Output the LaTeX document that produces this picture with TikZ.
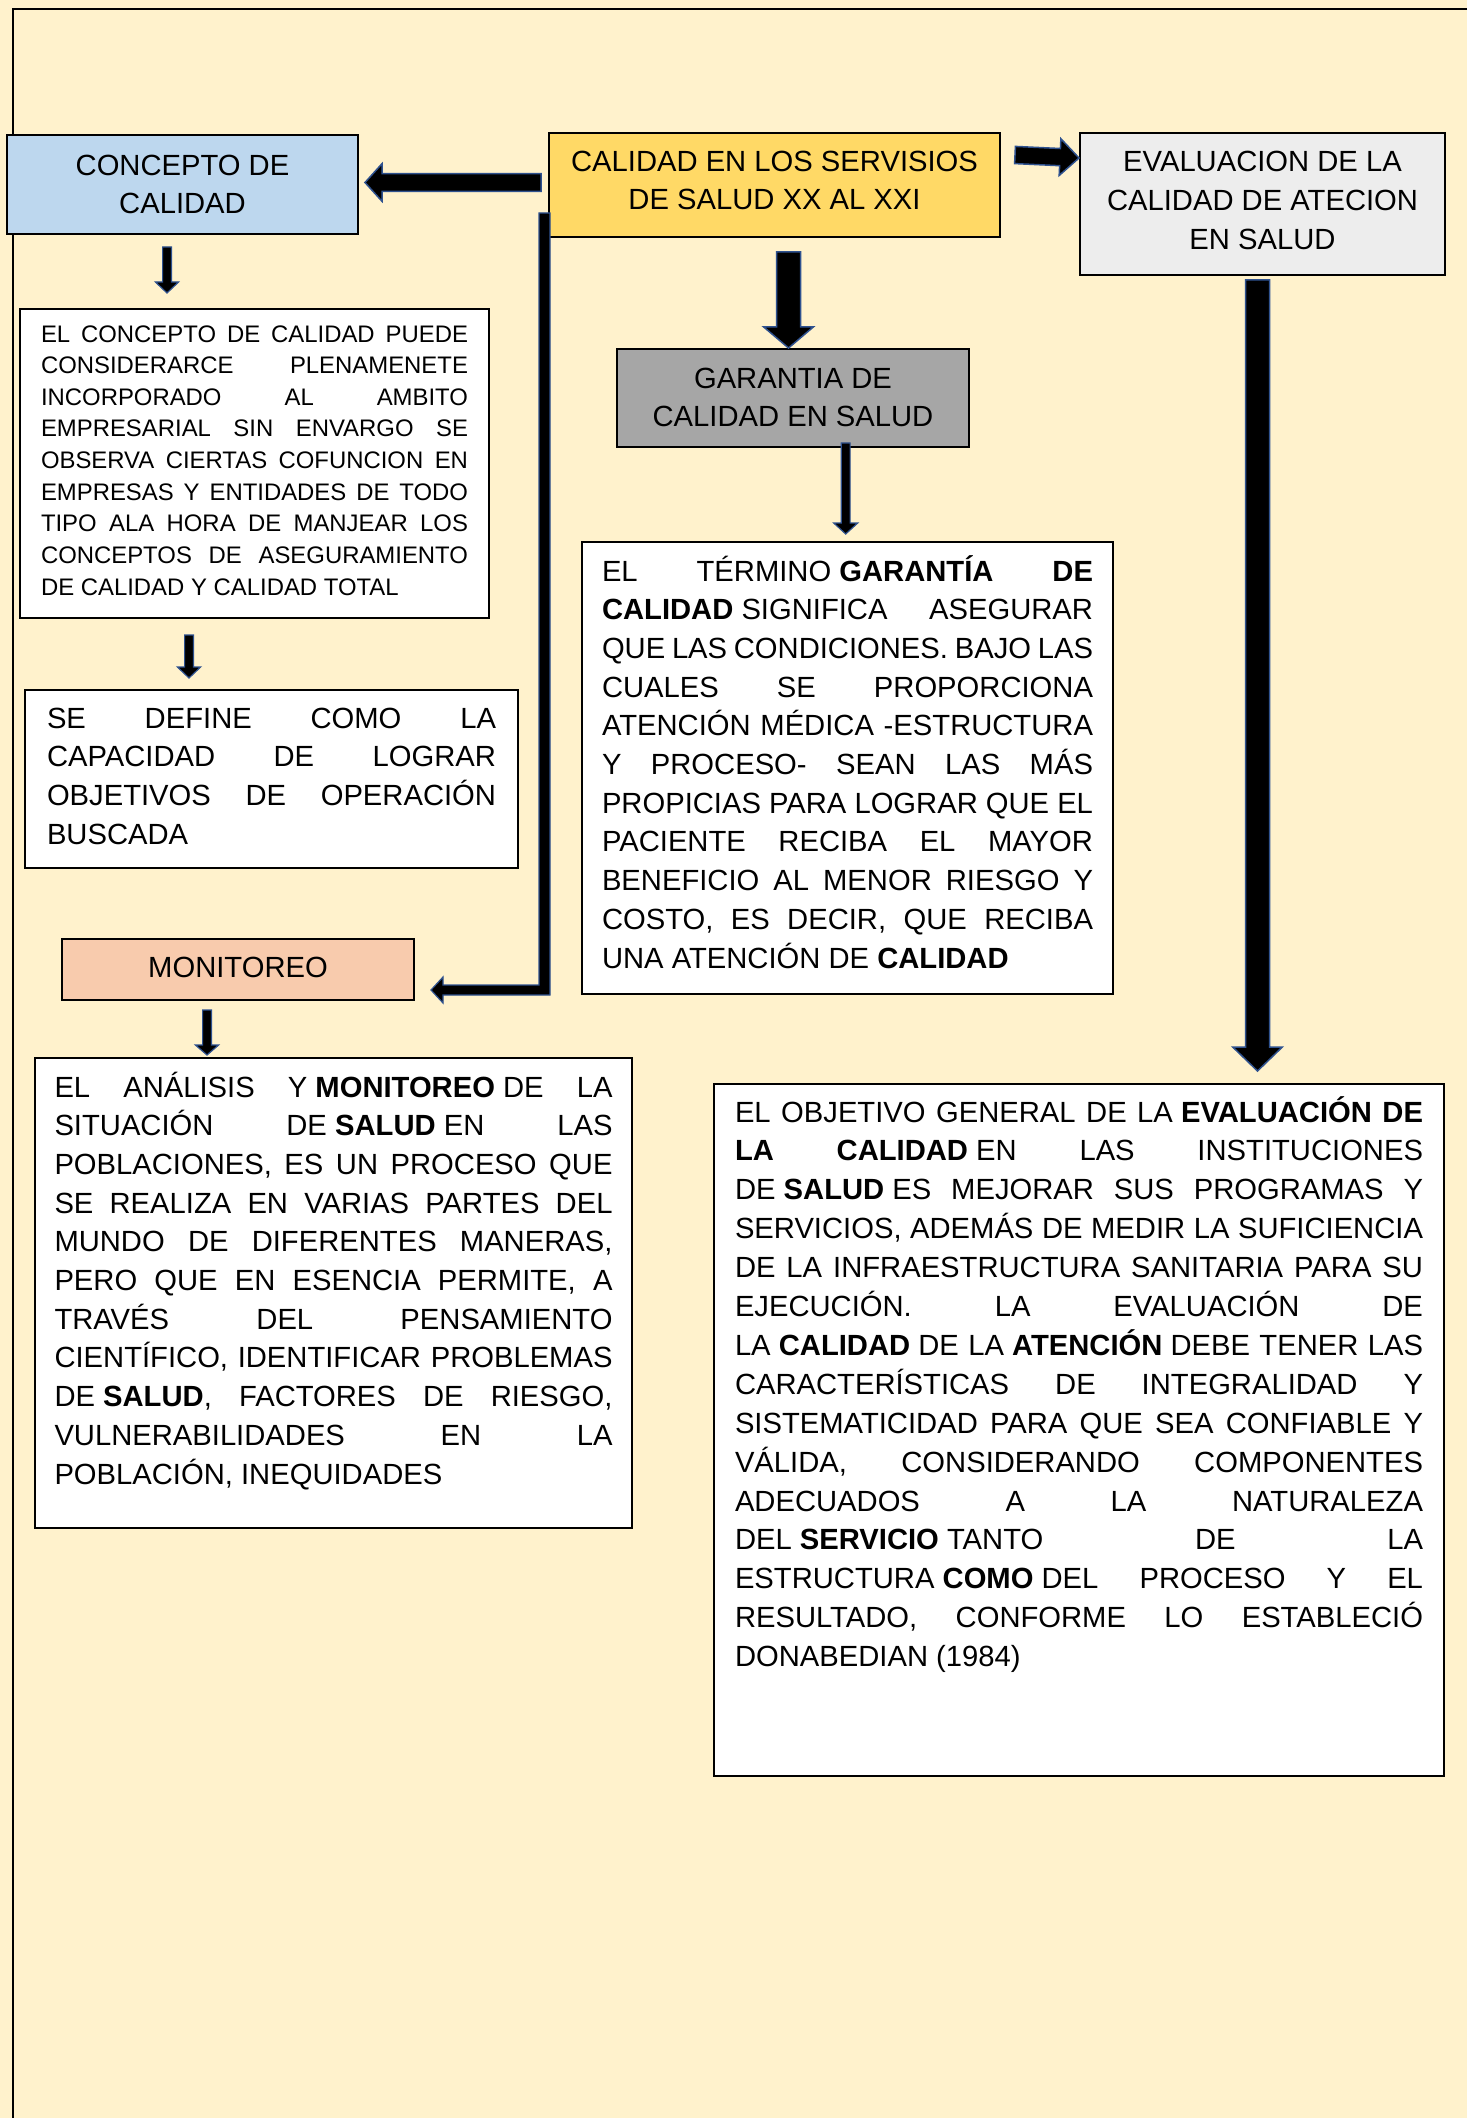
\documentclass[tikz,border=0pt]{standalone}
\usepackage{fontspec}
\setmainfont{Liberation Sans}
\usetikzlibrary{calc}
\definecolor{bgc}{HTML}{FFF2CC}
\definecolor{cblue}{HTML}{BDD7EE}
\definecolor{cgold}{HTML}{FFD966}
\definecolor{cgray}{HTML}{EDEDED}
\definecolor{cdgray}{HTML}{A6A6A6}
\definecolor{cpeach}{HTML}{F8CBAD}
\definecolor{arrowblue}{HTML}{2F528F}
\newcommand\jl[1]{\hbox to\hsize{\spaceskip=0.278em plus 1fil minus 0.09em\relax #1}}
\newcommand\lastl[1]{\hbox{\spaceskip=0.278em\relax #1}}
\newcommand\ctrl[1]{\hbox to\hsize{\hfil #1\hfil}}
\newcommand\fs{\hskip 0.278em minus 0.05em\relax}
\newcommand\boxtext[5]{\vbox to #1{\hsize=#2\relax\baselineskip=#3\relax\lineskiplimit=-\maxdimen\vskip #4\relax\hbox{}#5\vss}}
\newcommand\barrow[6][]{%
  \coordinate (bas) at #2; \coordinate (bae) at #3;
  \coordinate (bah) at ($(bae)!#6!(bas)$);
  \filldraw[blockarrow,#1] ($(bas)!#4!90:(bae)$) -- ($(bah)!#4!90:(bae)$) -- ($(bah)!#5!90:(bae)$) -- (bae) -- ($(bah)!#5!-90:(bae)$) -- ($(bah)!#4!-90:(bae)$) -- ($(bas)!#4!-90:(bae)$) -- cycle;}
\tikzset{
  titlebox/.style={draw=black, line width=1pt, inner sep=0pt, outer sep=0pt, anchor=north west, font=\fontsize{14.6pt}{19.35pt}\selectfont},
  textbox/.style={draw=black, fill=white, line width=0.75pt, inner ysep=0pt, outer sep=0pt, anchor=north west, font=\fontsize{14.6pt}{19.35pt}\selectfont},
  blockarrow/.style={fill=black, draw=arrowblue, line width=0.75pt, line join=miter},
  thinarrow/.style={line width=0.6pt}
}
\begin{document}
\begin{tikzpicture}[x=0.5pt,y=-0.5pt]
\fill[bgc] (0,0) rectangle (1467,2118);
\useasboundingbox (0,0) rectangle (1467,2118);
\draw[line width=1pt] (1467,9) -- (13,9) -- (13,2118);

% title boxes
\node[titlebox, fill=cblue] (concept) at (7,135)
  {\boxtext{49.5pt}{175.5pt}{19.35pt}{0.75pt}{\ctrl{CONCEPTO DE}\ctrl{CALIDAD}}};
\node[titlebox, fill=cgold] (calidad) at (549,133)
  {\boxtext{52pt}{225.5pt}{19.35pt}{-0.25pt}{\ctrl{CALIDAD EN LOS SERVISIOS}\ctrl{DE SALUD XX AL XXI}}};
\node[titlebox, fill=cgray] (evaluacion) at (1080,133)
  {\boxtext{71pt}{182.5pt}{19.4pt}{0.05pt}{\ctrl{EVALUACION DE LA}\ctrl{CALIDAD DE ATECION}\ctrl{EN SALUD}}};
\node[titlebox, fill=cdgray] (garantia) at (617,349)
  {\boxtext{49pt}{176pt}{19.35pt}{0.25pt}{\ctrl{GARANTIA DE}\ctrl{CALIDAD EN SALUD}}};
\node[titlebox, fill=cpeach] (monitoreo) at (62,939)
  {\boxtext{30.5pt}{176pt}{19.35pt}{-0.35pt}{\ctrl{MONITOREO}}};

% text boxes
\node[textbox, inner xsep=10.5pt, font=\fontsize{11.95pt}{15.83pt}\selectfont] (t1) at (20,309)
  {\boxtext{154.5pt}{213.5pt}{15.83pt}{0.67pt}{%
   \jl{EL CONCEPTO DE CALIDAD PUEDE}
   \jl{CONSIDERARCE PLENAMENETE}
   \jl{INCORPORADO AL AMBITO}
   \jl{EMPRESARIAL SIN ENVARGO SE}
   \jl{OBSERVA CIERTAS COFUNCION EN}
   \jl{EMPRESAS Y ENTIDADES DE TODO}
   \jl{TIPO ALA HORA DE MANJEAR LOS}
   \jl{CONCEPTOS DE ASEGURAMIENTO}
   \lastl{DE CALIDAD Y CALIDAD TOTAL}}};
\node[textbox, inner xsep=11pt] (t2) at (25,690)
  {\boxtext{89pt}{224.5pt}{19.35pt}{-0.35pt}{%
   \jl{SE DEFINE COMO LA}
   \jl{CAPACIDAD DE LOGRAR}
   \jl{OBJETIVOS DE OPERACIÓN}
   \lastl{BUSCADA}}};
\node[textbox, inner xsep=10pt] (t3) at (582,542)
  {\boxtext{226pt}{245.5pt}{19.35pt}{0.15pt}{%
   \jl{EL TÉRMINO\fs\textbf{GARANTÍA DE}}
   \jl{\textbf{CALIDAD}\fs SIGNIFICA ASEGURAR}
   \jl{QUE LAS CONDICIONES. BAJO LAS}
   \jl{CUALES SE PROPORCIONA}
   \jl{ATENCIÓN MÉDICA -ESTRUCTURA}
   \jl{Y PROCESO- SEAN LAS MÁS}
   \jl{PROPICIAS PARA LOGRAR QUE EL}
   \jl{PACIENTE RECIBA EL MAYOR}
   \jl{BENEFICIO AL MENOR RIESGO Y}
   \jl{COSTO, ES DECIR, QUE RECIBA}
   \lastl{UNA ATENCIÓN DE \textbf{CALIDAD}}}};
\node[textbox, inner xsep=9.75pt] (t4) at (35,1058)
  {\boxtext{235pt}{279pt}{19.35pt}{0.15pt}{%
   \jl{EL ANÁLISIS Y\fs\textbf{MONITOREO}\fs DE LA}
   \jl{SITUACIÓN DE\fs\textbf{SALUD}\fs EN LAS}
   \jl{POBLACIONES, ES UN PROCESO QUE}
   \jl{SE REALIZA EN VARIAS PARTES DEL}
   \jl{MUNDO DE DIFERENTES MANERAS,}
   \jl{PERO QUE EN ESENCIA PERMITE, A}
   \jl{TRAVÉS DEL PENSAMIENTO}
   \jl{CIENTÍFICO, IDENTIFICAR PROBLEMAS}
   \jl{DE\fs\textbf{SALUD}, FACTORES DE RIESGO,}
   \jl{VULNERABILIDADES EN LA}
   \lastl{POBLACIÓN, INEQUIDADES}}};
\node[textbox, inner xsep=10.5pt] (t5) at (714,1084)
  {\boxtext{346pt}{344pt}{19.45pt}{-0.45pt}{%
   \jl{EL OBJETIVO GENERAL DE LA\fs\textbf{EVALUACIÓN DE}}
   \jl{\textbf{LA CALIDAD}\fs EN LAS INSTITUCIONES}
   \jl{DE\fs\textbf{SALUD}\fs ES MEJORAR SUS PROGRAMAS Y}
   \jl{SERVICIOS, ADEMÁS DE MEDIR LA SUFICIENCIA}
   \jl{DE LA INFRAESTRUCTURA SANITARIA PARA SU}
   \jl{EJECUCIÓN. LA EVALUACIÓN DE}
   \jl{LA\fs\textbf{CALIDAD}\fs DE LA\fs\textbf{ATENCIÓN}\fs DEBE TENER LAS}
   \jl{CARACTERÍSTICAS DE INTEGRALIDAD Y}
   \jl{SISTEMATICIDAD PARA QUE SEA CONFIABLE Y}
   \jl{VÁLIDA, CONSIDERANDO COMPONENTES}
   \jl{ADECUADOS A LA NATURALEZA}
   \jl{DEL\fs\textbf{SERVICIO}\fs TANTO DE LA}
   \jl{ESTRUCTURA\fs\textbf{COMO}\fs DEL PROCESO Y EL}
   \jl{RESULTADO, CONFORME LO ESTABLECIÓ}
   \lastl{DONABEDIAN (1984)}}};

% block arrows
\barrow{($(calidad.west)+(-8,-2.5)$)}{($(concept.east)+(7,-2)$)}{4.4pt}{9.4pt}{8.5pt}
\barrow{($(calidad.east)+(15,-30)$)}{($(evaluacion.west)+(-1,-46)$)}{4.3pt}{9.2pt}{9.5pt}
\barrow{($(calidad.south)+(14,15)$)}{($(garantia.north)+(-4.5,-1)$)}{6pt}{12.4pt}{10.5pt}
\barrow{($(evaluacion.south)+(-5,5)$)}{($(t5.north)+(178.5,-13)$)}{6pt}{12.4pt}{12pt}
\barrow[thinarrow]{($(concept.south)+(-15.5,13)$)}{($(t1.north)+(-87.5,-16)$)}{2.2pt}{5.8pt}{5.5pt}
\barrow[thinarrow]{($(t1.south)+(-65.5,17)$)}{($(t2.north)+(-82.5,-12)$)}{2.2pt}{5.8pt}{5.5pt}
\barrow[thinarrow]{($(garantia.south)+(52.7,-4)$)}{($(t3.north)+(-1.8,-8)$)}{2.2pt}{6pt}{5.5pt}
\barrow[thinarrow]{($(monitoreo.south)+(-31,10)$)}{($(t4.north)+(-126.5,-3)$)}{2.2pt}{5.8pt}{5pt}

% elbow arrow from calidad down to monitoreo
\filldraw[blockarrow, thinarrow] ($(calidad.south west)+(-10,-24)$) -- ++(11,0) -- ++(0,782) -- ++(-107,0)
  -- ++(0,8) -- ++(-12,-13) -- ++(12,-13) -- ++(0,8) -- ++(96,0) -- cycle;
\end{tikzpicture}
\end{document}
